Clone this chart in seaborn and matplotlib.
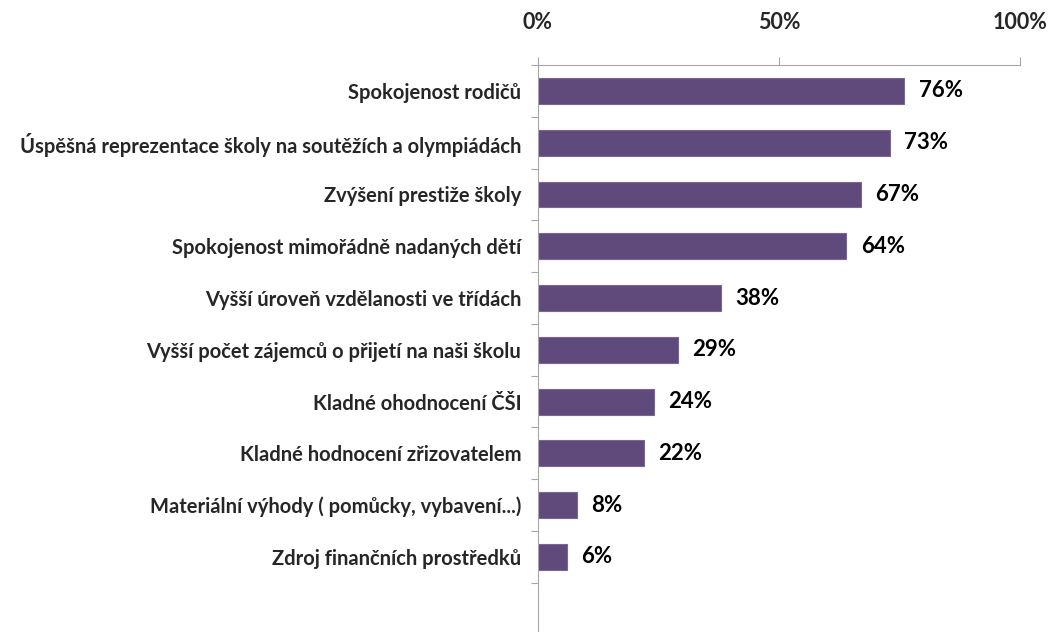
import matplotlib.pyplot as plt
import seaborn as sns
import numpy as np
from matplotlib.ticker import FixedLocator, PercentFormatter

categories = [
    "Spokojenost rodičů",
    "Úspěšná reprezentace školy na soutěžích a olympiádách",
    "Zvýšení prestiže školy",
    "Spokojenost mimořádně nadaných dětí",
    "Vyšší úroveň vzdělanosti ve třídách",
    "Vyšší počet zájemců o přijetí na naši školu",
    "Kladné ohodnocení ČŠI",
    "Kladné hodnocení zřizovatelem",
    "Materiální výhody ( pomůcky, vybavení...)",
    "Zdroj finančních prostředků",
]
values = [76, 73, 67, 64, 38, 29, 24, 22, 8, 6]
x_ticks = [0, 50, 100]

sns.set_theme(style="white")
plt.rcParams['font.family'] = ['Lato', 'DejaVu Sans']
plt.rcParams['font.weight'] = 'bold'

fig = plt.figure(figsize=(10.54, 6.32), dpi=100)
ax = fig.add_axes([538 / 1054, 0.0, (1020 - 538) / 1054, 1 - 65 / 632])

sns.barplot(x=values, y=categories, orient="h", color="#604A7B",
            edgecolor="#7A6694", linewidth=0.8, width=0.5, saturation=1, ax=ax)

# value labels
for i, v in enumerate(values):
    ax.text(v + 3, i, f"{v}%", va="center", ha="left",
            fontsize=16, fontweight="bold", color="black")

ax.set_xlim(0, 100)
ax.set_ylim(10.45, -0.5)
ax.set_xlabel("")
ax.set_ylabel("")

# x axis on top
ax.xaxis.tick_top()
ax.set_xticks(x_ticks)
ax.xaxis.set_major_formatter(PercentFormatter(decimals=0))
ax.tick_params(axis="x", which="major", direction="out", length=6, width=0.8,
               color="#A6A6A6", pad=17, labelsize=15.5)
for lab in ax.get_xticklabels():
    lab.set_fontweight("bold")

# y axis: labels without tick marks, minor ticks at category boundaries
ax.yaxis.set_minor_locator(FixedLocator(np.arange(-0.5, len(categories), 1.0)))
ax.tick_params(axis="y", which="major", length=0, pad=12, labelsize=14.5)
ax.tick_params(axis="y", which="minor", left=True, direction="out", length=5,
               width=0.8, color="#A6A6A6")
for lab in ax.get_yticklabels():
    lab.set_fontweight("bold")

for side in ["right", "bottom"]:
    ax.spines[side].set_visible(False)
for side in ["top", "left"]:
    ax.spines[side].set_color("#A6A6A6")
    ax.spines[side].set_linewidth(0.8)

fig.savefig("out.png", dpi=100)
